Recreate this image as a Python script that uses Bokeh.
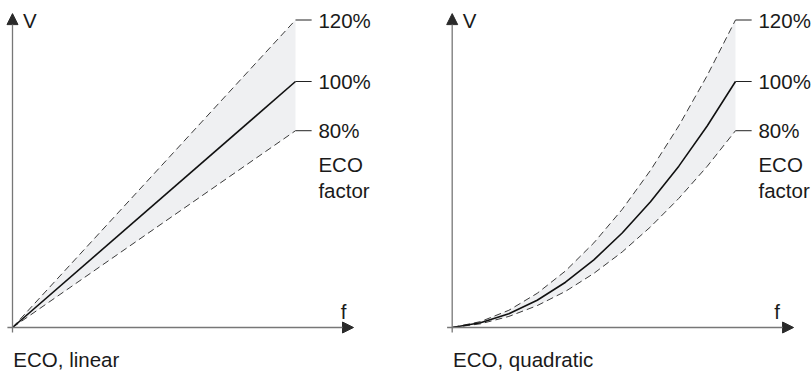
from bokeh.plotting import figure
from bokeh.models import Range1d, Arrow, NormalHead
from bokeh.core.properties import value
from bokeh.embed import file_html
from bokeh.resources import INLINE

# ---- data (normalised f and V) ----
factor_labels = ["120%", "100%", "80%"]
eco_text = ["ECO", "factor"]

f_lin = [0.0, 1.0]
v_lin_120 = [0.0, 1.25]
v_lin_100 = [0.0, 1.0]
v_lin_80 = [0.0, 0.8]

f_quad = [0.0, 0.1, 0.2, 0.3, 0.4, 0.5, 0.6, 0.7, 0.8, 0.9, 1.0]
v_quad_120 = [0.0, 0.024, 0.070, 0.139, 0.230, 0.344, 0.480, 0.639, 0.820, 1.024, 1.25]
v_quad_100 = [0.0, 0.019, 0.056, 0.111, 0.184, 0.275, 0.384, 0.511, 0.656, 0.819, 1.0]
v_quad_80 = [0.0, 0.015, 0.045, 0.089, 0.147, 0.220, 0.307, 0.409, 0.525, 0.655, 0.8]

captions = ["ECO, linear", "ECO, quadratic"]

FONT = value("Liberation Sans")
FS = "20.5px"
TXT = "#1a1a1a"
FILL = "#eff0f2"
DASH_C = "#3a3a3a"
AX_C = "#777777"
HEAD_C = "#2a2a2a"

p = figure(width=812, height=372, x_range=Range1d(-0.0424, 2.8269),
           y_range=Range1d(-0.1829, 1.3293), output_backend="svg",
           toolbar_location=None, min_border=0, x_axis_type=None, y_axis_type=None)
p.extra_x_ranges = {"right": Range1d(-1.5944, 1.2718)}
p.grid.visible = False
p.outline_line_color = None
p.background_fill_color = "white"
p.border_fill_color = "white"


def panel(rname, f, v120, v100, v80, caption, f_lab_x):
    kw = {} if rname == "default" else {"x_range_name": rname}
    # axes with arrows
    p.add_layout(Arrow(x_start=-0.018, y_start=0, x_end=1.205, y_end=0,
                       line_color=AX_C, line_width=1.3,
                       end=NormalHead(size=11, fill_color=HEAD_C, line_color=HEAD_C),
                       **kw))
    p.add_layout(Arrow(x_start=0, y_start=-0.02, x_end=0, y_end=1.276,
                       line_color=AX_C, line_width=1.3,
                       end=NormalHead(size=11, fill_color=HEAD_C, line_color=HEAD_C),
                       **kw))
    # band
    p.varea(x=f, y1=v80, y2=v120, fill_color=FILL, **kw)
    p.line(f, v120, line_color=DASH_C, line_width=1, line_dash="7 4", **kw)
    p.line(f, v80, line_color=DASH_C, line_width=1, line_dash="7 4", **kw)
    p.line(f, v100, line_color="#111111", line_width=1.6, **kw)
    ends = [v120[-1], v100[-1], v80[-1]]
    fe = f[-1]
    p.segment(x0=[fe] * 3, y0=ends, x1=[fe + 0.057] * 3, y1=ends,
              line_color="#222222", line_width=1, **kw)
    p.text(x=[fe + 0.081] * 3, y=ends, text=factor_labels, text_font=FONT,
           text_font_size=FS, text_color=TXT, text_baseline="middle", **kw)
    p.text(x=[fe + 0.081] * 2, y=[0.663, 0.557], text=eco_text, text_font=FONT,
           text_font_size=FS, text_color=TXT, text_baseline="middle", **kw)
    p.text(x=[0.037], y=[1.248], text=["V"], text_font=FONT, text_font_size=FS,
           text_color=TXT, text_baseline="middle", **kw)
    p.text(x=[f_lab_x], y=[0.065], text=["f"], text_font=FONT, text_font_size=FS,
           text_color=TXT, text_baseline="middle", text_align="center", **kw)
    p.text(x=[0.003], y=[-0.130], text=[caption], text_font=FONT, text_font_size=FS,
           text_color=TXT, text_baseline="middle", **kw)


panel("default", f_lin, v_lin_120, v_lin_100, v_lin_80, captions[0], 1.17)
panel("right", f_quad, v_quad_120, v_quad_100, v_quad_80, captions[1], 1.147)

open("out.html", "w").write(file_html(p, INLINE))
